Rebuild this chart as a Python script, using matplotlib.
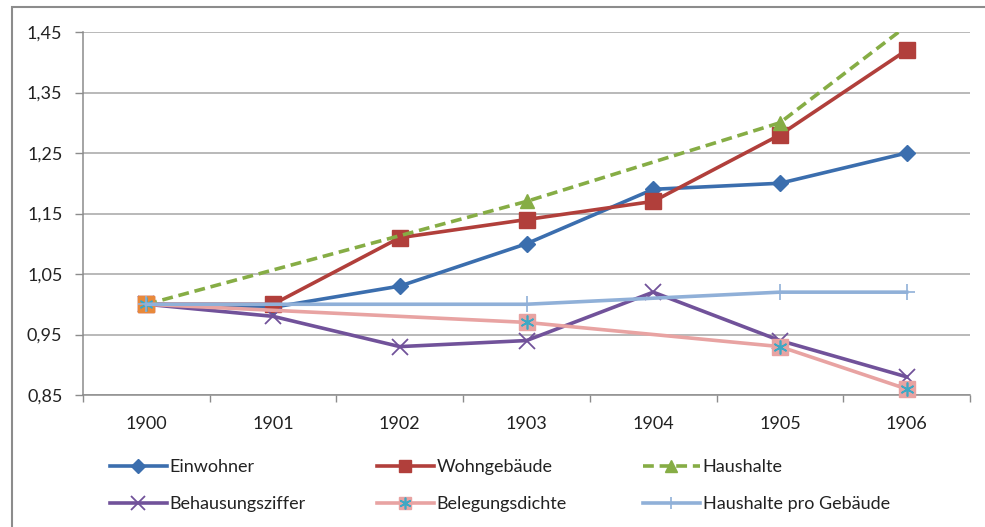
import matplotlib
matplotlib.use("Agg")
import matplotlib.pyplot as plt
from matplotlib.patches import Rectangle

years = ["1900", "1901", "1902", "1903", "1904", "1905", "1906"]
x_all = list(range(len(years)))

einwohner = [1.00, 0.995, 1.03, 1.10, 1.19, 1.20, 1.25]
wohngebaeude = [1.00, 1.00, 1.11, 1.14, 1.17, 1.28, 1.42]
behausungsziffer = [1.00, 0.98, 0.93, 0.94, 1.02, 0.94, 0.88]

# series reported only in some years
x_sparse = [0, 3, 5, 6]
haushalte = [1.00, 1.17, 1.30, 1.46]
belegungsdichte = [1.00, 0.97, 0.93, 0.86]
hh_pro_gebaeude = [1.00, 1.00, 1.02, 1.02]

yticks = [0.85, 0.95, 1.05, 1.15, 1.25, 1.35, 1.45]
ytick_labels = ["0,85", "0,95", "1,05", "1,15", "1,25", "1,35", "1,45"]

plt.rcParams['font.family'] = ['Lato', 'DejaVu Sans']

W, H = 985, 527
fig = plt.figure(figsize=(W/100, H/100), dpi=100)
fig.patch.set_facecolor('white')

# outer chart frame
fig.patches.append(Rectangle((12/W, -0.1), 1.2, 1 - 7/H + 0.1, transform=fig.transFigure,
                             fill=False, edgecolor='#8c8c8c', linewidth=1.5, zorder=0))

ax = fig.add_axes([83/W, 1 - 395/H, (970-83)/W, (395-32)/H])
ax.set_xlim(-0.5, 6.5)
ax.set_ylim(0.85, 1.45)

c_blue = '#3b6eae'
c_red = '#b13f3b'
c_green = '#86ad45'
c_purple = '#71529a'
c_pink = '#e8a3a2'
c_teal = '#3fa8c4'
c_lblue = '#90b0d8'
c_orange = '#e8893a'

lw = 2.6
l1, = ax.plot(x_all, einwohner, color=c_blue, lw=lw, marker='D', ms=8, mec=c_blue, mfc=c_blue, zorder=5, clip_on=False)
l2, = ax.plot(x_all, wohngebaeude, color=c_red, lw=lw, marker='s', ms=11, mec=c_red, mfc=c_red, zorder=5, clip_on=False)
l3, = ax.plot(x_sparse, haushalte, color=c_green, lw=lw, ls=(0, (3, 1.6)), marker='^', ms=10,
              mec=c_green, mfc=c_green, zorder=5, markevery=[0, 1, 2])
l4, = ax.plot(x_all, behausungsziffer, color=c_purple, lw=lw, marker='x', ms=12, mew=1.3,
              mec=c_purple, zorder=5, clip_on=False)
l5, = ax.plot(x_sparse, belegungsdichte, color=c_pink, lw=lw, marker='s', ms=11, mec=c_pink, mfc=c_pink,
              zorder=5, clip_on=False)
ax.plot(x_sparse, belegungsdichte, ls='none', marker='s', ms=11, mec=c_orange, mfc=c_orange,
        markevery=[0], zorder=5, clip_on=False)
l5b, = ax.plot(x_sparse, belegungsdichte, ls='none', marker=(6, 2, 0), ms=10, mew=1.2, mec=c_teal,
               zorder=5, clip_on=False)
l6, = ax.plot(x_sparse, hh_pro_gebaeude, color=c_lblue, lw=lw, marker='+', ms=11, mew=1.2,
              mec=c_lblue, zorder=5, clip_on=False)

ax.set_yticks(yticks)
ax.set_yticklabels(ytick_labels)
ax.set_xticks(x_all)
ax.set_xticklabels(years)
ax.set_xticks([i - 0.5 for i in range(8)], minor=True)
ax.tick_params(axis='x', which='major', length=0, pad=15, labelsize=13, labelcolor='#222222')
ax.tick_params(axis='x', which='minor', length=5, color='#8c8c8c', width=1, direction='out')
ax.tick_params(axis='y', length=5.8, color='#8c8c8c', width=1, pad=9, labelsize=13, labelcolor='#222222')
ax.grid(axis='y', color='#a6a6a6', lw=1.1)
ax.set_axisbelow(True)
for s in ['top', 'right']:
    ax.spines[s].set_visible(False)
for s in ['left', 'bottom']:
    ax.spines[s].set_color('#8c8c8c')
    ax.spines[s].set_linewidth(1.1)

cols = [
    ([l1, l4], ["Einwohner", "Behausungsziffer"], 110),
    ([l2, (l5, l5b)], ["Wohngebäude", "Belegungsdichte"], 377),
    ([l3, l6], ["Haushalte", "Haushalte pro Gebäude"], 643),
]
for handles, labels, xpx in cols:
    leg = fig.legend(handles, labels, loc='upper left', bbox_to_anchor=(xpx/W, 1 - 459/H),
                     frameon=False, handlelength=3.15, handletextpad=0.15, labelspacing=1.17,
                     fontsize=13, borderpad=0, borderaxespad=0, markerscale=0.85)
    for t in leg.get_texts():
        t.set_color('#222222')

fig.savefig('out.png', dpi=100, facecolor='white')
